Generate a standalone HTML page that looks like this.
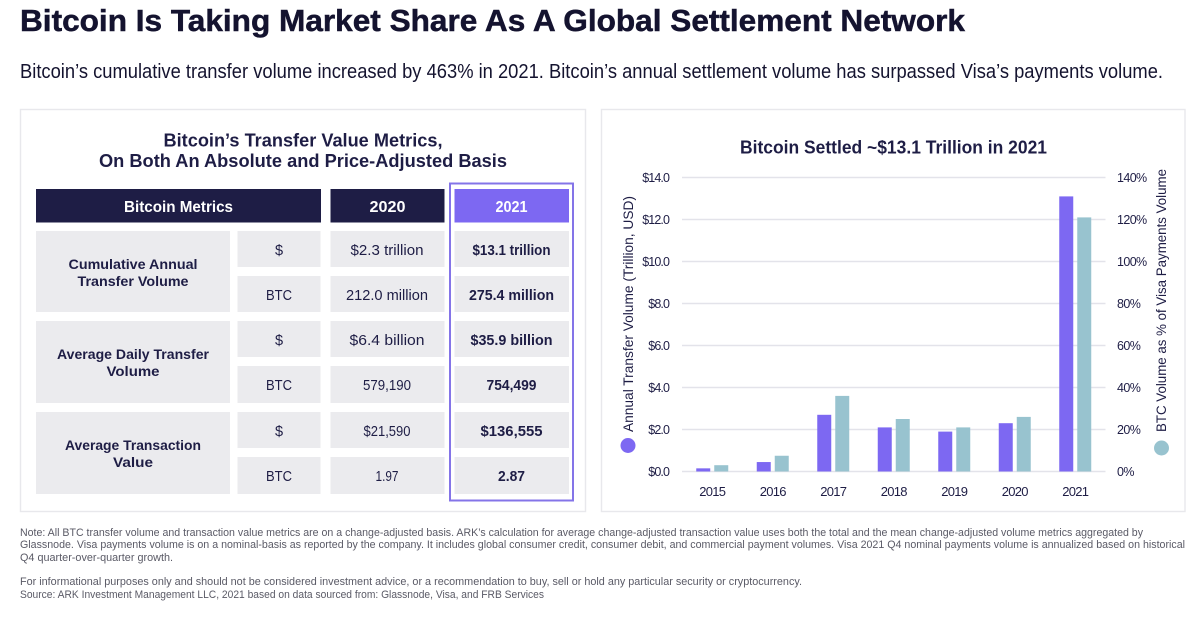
<!DOCTYPE html>
<html lang="en">
<head>
<meta charset="utf-8">
<title>Bitcoin Is Taking Market Share As A Global Settlement Network</title>
<style>
html,body{margin:0;padding:0;background:#fff;width:1200px;height:617px;overflow:hidden}
svg{display:block}
text{font-family:"Liberation Sans",sans-serif;fill:#1e1d45}
.b{font-weight:700}
.c{text-anchor:middle}
.cell{fill:#ebebee}
.v{font-size:14.500px}
.vb{font-size:14.500px;font-weight:700}
.note{font-size:11px;fill:#5a5a66}
.white{fill:#fff;font-weight:700;font-size:15.500px;text-anchor:middle}
</style>
</head>
<body>
<svg id="page" xmlns="http://www.w3.org/2000/svg" width="1200" height="617" viewBox="0 0 1200 617">
  <rect width="1200" height="617" fill="#fff"/>
  <text x="20" y="31" class="b" font-size="31" textLength="945" lengthAdjust="spacingAndGlyphs" style="fill:#14132f;stroke:#14132f;stroke-width:.5">Bitcoin Is Taking Market Share As A Global Settlement Network</text>
  <text x="20" y="78" font-size="20" textLength="1143" lengthAdjust="spacingAndGlyphs" style="fill:#14132f">Bitcoin’s cumulative transfer volume increased by 463% in 2021. Bitcoin’s annual settlement volume has surpassed Visa’s payments volume.</text>

  <g>
    <rect x="20.500" y="109.500" width="565" height="402" fill="#fff" stroke="#e8e8ec" stroke-width="1.400"/>
    <text x="303" y="146.500" class="b" font-size="18" textLength="279" lengthAdjust="spacingAndGlyphs" text-anchor="middle">Bitcoin’s Transfer Value Metrics,</text>
    <text x="303" y="167" class="b" font-size="18" textLength="408" lengthAdjust="spacingAndGlyphs" text-anchor="middle">On Both An Absolute and Price-Adjusted Basis</text>

    <rect x="36" y="189" width="285" height="33.500" fill="#1e1d45"/>
    <rect x="330.500" y="189" width="114" height="33.500" fill="#1e1d45"/>
    <rect x="454.500" y="189" width="114.500" height="33.500" fill="#7d68f2"/>
    <text x="178.500" y="212" class="white" textLength="109" lengthAdjust="spacingAndGlyphs">Bitcoin Metrics</text>
    <text x="387.500" y="212" class="white" textLength="36" lengthAdjust="spacingAndGlyphs">2020</text>
    <text x="511.500" y="212" class="white" textLength="32" lengthAdjust="spacingAndGlyphs">2021</text>

    <g>
      <rect class="cell" x="36" y="231" width="194" height="81"/>
      <rect class="cell" x="36" y="321" width="194" height="82"/>
      <rect class="cell" x="36" y="412" width="194" height="82"/>
      <rect class="cell" x="237.500" y="231" width="83" height="36"/>
      <rect class="cell" x="237.500" y="276" width="83" height="36"/>
      <rect class="cell" x="237.500" y="321" width="83" height="36"/>
      <rect class="cell" x="237.500" y="366" width="83" height="37"/>
      <rect class="cell" x="237.500" y="412" width="83" height="36"/>
      <rect class="cell" x="237.500" y="457" width="83" height="37"/>
      <rect class="cell" x="330.500" y="231" width="114" height="36"/>
      <rect class="cell" x="330.500" y="276" width="114" height="36"/>
      <rect class="cell" x="330.500" y="321" width="114" height="36"/>
      <rect class="cell" x="330.500" y="366" width="114" height="37"/>
      <rect class="cell" x="330.500" y="412" width="114" height="36"/>
      <rect class="cell" x="330.500" y="457" width="114" height="37"/>
      <rect class="cell" x="454.500" y="231" width="114.500" height="36"/>
      <rect class="cell" x="454.500" y="276" width="114.500" height="36"/>
      <rect class="cell" x="454.500" y="321" width="114.500" height="36"/>
      <rect class="cell" x="454.500" y="366" width="114.500" height="37"/>
      <rect class="cell" x="454.500" y="412" width="114.500" height="36"/>
      <rect class="cell" x="454.500" y="457" width="114.500" height="37"/>
    </g>
    <rect x="450" y="183.500" width="123" height="317" fill="none" stroke="#8474e8" stroke-width="2"/>

    <text x="133" y="269" class="c b" font-size="14" textLength="129" lengthAdjust="spacingAndGlyphs">Cumulative Annual</text>
    <text x="133" y="286" class="c b" font-size="14" textLength="111" lengthAdjust="spacingAndGlyphs">Transfer Volume</text>
    <text x="133" y="359" class="c b" font-size="14" textLength="152" lengthAdjust="spacingAndGlyphs">Average Daily Transfer</text>
    <text x="133" y="376" class="c b" font-size="14" textLength="53" lengthAdjust="spacingAndGlyphs">Volume</text>
    <text x="133" y="450" class="c b" font-size="14" textLength="136" lengthAdjust="spacingAndGlyphs">Average Transaction</text>
    <text x="133" y="467" class="c b" font-size="14" textLength="40" lengthAdjust="spacingAndGlyphs">Value</text>

    <text x="279" y="255" class="c v">$</text>
    <text x="279" y="300" class="c v" textLength="26" lengthAdjust="spacingAndGlyphs">BTC</text>
    <text x="279" y="345" class="c v">$</text>
    <text x="279" y="390" class="c v" textLength="26" lengthAdjust="spacingAndGlyphs">BTC</text>
    <text x="279" y="436" class="c v">$</text>
    <text x="279" y="481" class="c v" textLength="26" lengthAdjust="spacingAndGlyphs">BTC</text>

    <text x="387" y="255" class="c v" textLength="73" lengthAdjust="spacingAndGlyphs">$2.3 trillion</text>
    <text x="387" y="300" class="c v" textLength="82" lengthAdjust="spacingAndGlyphs">212.0 million</text>
    <text x="387" y="345" class="c v" textLength="75" lengthAdjust="spacingAndGlyphs">$6.4 billion</text>
    <text x="387" y="390" class="c v" textLength="48" lengthAdjust="spacingAndGlyphs">579,190</text>
    <text x="387" y="436" class="c v" textLength="47" lengthAdjust="spacingAndGlyphs">$21,590</text>
    <text x="387" y="481" class="c v" textLength="23" lengthAdjust="spacingAndGlyphs">1.97</text>

    <text x="511.500" y="255" class="c vb" textLength="78" lengthAdjust="spacingAndGlyphs">$13.1 trillion</text>
    <text x="511.500" y="300" class="c vb" textLength="85" lengthAdjust="spacingAndGlyphs">275.4 million</text>
    <text x="511.500" y="345" class="c vb" textLength="82" lengthAdjust="spacingAndGlyphs">$35.9 billion</text>
    <text x="511.500" y="390" class="c vb" textLength="50" lengthAdjust="spacingAndGlyphs">754,499</text>
    <text x="511.500" y="436" class="c vb" textLength="62" lengthAdjust="spacingAndGlyphs">$136,555</text>
    <text x="511.500" y="481" class="c vb" textLength="27" lengthAdjust="spacingAndGlyphs">2.87</text>
  </g>

  <g>
    <rect x="601.500" y="109.500" width="583.500" height="402" fill="#fff" stroke="#e8e8ec" stroke-width="1.400"/>
    <text x="893.500" y="153.500" class="b" font-size="18" textLength="307" lengthAdjust="spacingAndGlyphs" text-anchor="middle">Bitcoin Settled ~$13.1 Trillion in 2021</text>
    <g id="grid"></g>
    <g id="bars"></g>
    <g id="axes"></g>
    <text transform="translate(633,432) rotate(-90)" font-size="13.500" textLength="236" lengthAdjust="spacingAndGlyphs">Annual Transfer Volume (Trillion, USD)</text>
    <circle cx="628" cy="445.500" r="7.500" fill="#7d68f2"/>
    <text transform="translate(1166,432) rotate(-90)" font-size="13.500" textLength="263" lengthAdjust="spacingAndGlyphs">BTC Volume as % of Visa Payments Volume</text>
    <circle cx="1161.500" cy="448" r="7.500" fill="#98c3cf"/>
  </g>

  <g>
    <text class="note" x="20" y="536" textLength="1123" lengthAdjust="spacingAndGlyphs">Note: All BTC transfer volume and transaction value metrics are on a change-adjusted basis. ARK’s calculation for average change-adjusted transaction value uses both the total and the mean change-adjusted volume metrics aggregated by</text>
    <text class="note" x="20" y="548" textLength="1165" lengthAdjust="spacingAndGlyphs">Glassnode. Visa payments volume is on a nominal-basis as reported by the company. It includes global consumer credit, consumer debit, and commercial payment volumes. Visa 2021 Q4 nominal payments volume is annualized based on historical</text>
    <text class="note" x="20" y="561" textLength="153" lengthAdjust="spacingAndGlyphs">Q4 quarter-over-quarter growth.</text>
    <text class="note" x="20" y="585" textLength="782" lengthAdjust="spacingAndGlyphs">For informational purposes only and should not be considered investment advice, or a recommendation to buy, sell or hold any particular security or cryptocurrency.</text>
    <text class="note" x="20" y="598" textLength="524" lengthAdjust="spacingAndGlyphs">Source: ARK Investment Management LLC, 2021 based on data sourced from: Glassnode, Visa, and FRB Services</text>
  </g>
</svg>
<script>
const years = ['2015', '2016', '2017', '2018', '2019', '2020', '2021'];
const transferVolume = [0.15, 0.45, 2.7, 2.1, 1.9, 2.3, 13.1];
const visaShare = [3, 7.5, 36, 25, 21, 26, 121];
const leftTicks = [0, 2, 4, 6, 8, 10, 12, 14];
const leftTickLabels = ['$0.0', '$2.0', '$4.0', '$6.0', '$8.0', '$10.0', '$12.0', '$14.0'];
const rightTicks = [0, 20, 40, 60, 80, 100, 120, 140];
const rightTickLabels = ['0%', '20%', '40%', '60%', '80%', '100%', '120%', '140%'];

const NS = 'http://www.w3.org/2000/svg';
const plotLeft = 682, plotRight = 1105.5, plotBottom = 471.5, plotTop = 177.5;
const yLeft = v => plotBottom - (v / 14) * (plotBottom - plotTop);
const yRight = v => plotBottom - (v / 140) * (plotBottom - plotTop);
const band = (plotRight - plotLeft) / years.length;
const xCenter = i => plotLeft + band * (i + 0.5);
const barWidth = 14, barGap = 4;

function make(tag, parent, props) {
  const el = document.createElementNS(NS, tag);
  for (const k in props) el.setAttribute(k, props[k]);
  parent.appendChild(el);
  return el;
}

const grid = document.getElementById('grid');
const bars = document.getElementById('bars');
const axes = document.getElementById('axes');

leftTicks.forEach((t, i) => {
  const y = yLeft(t);
  const line = make('line', grid, {x1: plotLeft, x2: plotRight, y1: y, y2: y, stroke: '#e3e3ea', 'stroke-width': 1.6});
  
  
  const lab = make('text', axes, {x: 669, y: y + 4.5, 'text-anchor': 'end', 'font-size': 12.5, 'letter-spacing': -0.9});
  lab.textContent = leftTickLabels[i];
  
  
});

rightTicks.forEach((t, i) => {
  const lab = make('text', axes, {x: 1117, y: yRight(t) + 4.5, 'font-size': 12.5, 'letter-spacing': -0.6});
  lab.textContent = rightTickLabels[i];
  
  
});

years.forEach((year, i) => {
  const cx = xCenter(i);
  const a = make('rect', bars, {x: cx - barGap / 2 - barWidth, y: yLeft(transferVolume[i]), width: barWidth, height: plotBottom - yLeft(transferVolume[i]), fill: '#7d68f2'});
  
  
  const b = make('rect', bars, {x: cx + barGap / 2, y: yRight(visaShare[i]), width: barWidth, height: plotBottom - yRight(visaShare[i]), fill: '#98c3cf'});
  
  
  const lab = make('text', axes, {x: cx, y: 496, 'text-anchor': 'middle', 'font-size': 13, 'letter-spacing': -0.7});
  lab.textContent = year;
  
  
});
</script>
</body>
</html>
